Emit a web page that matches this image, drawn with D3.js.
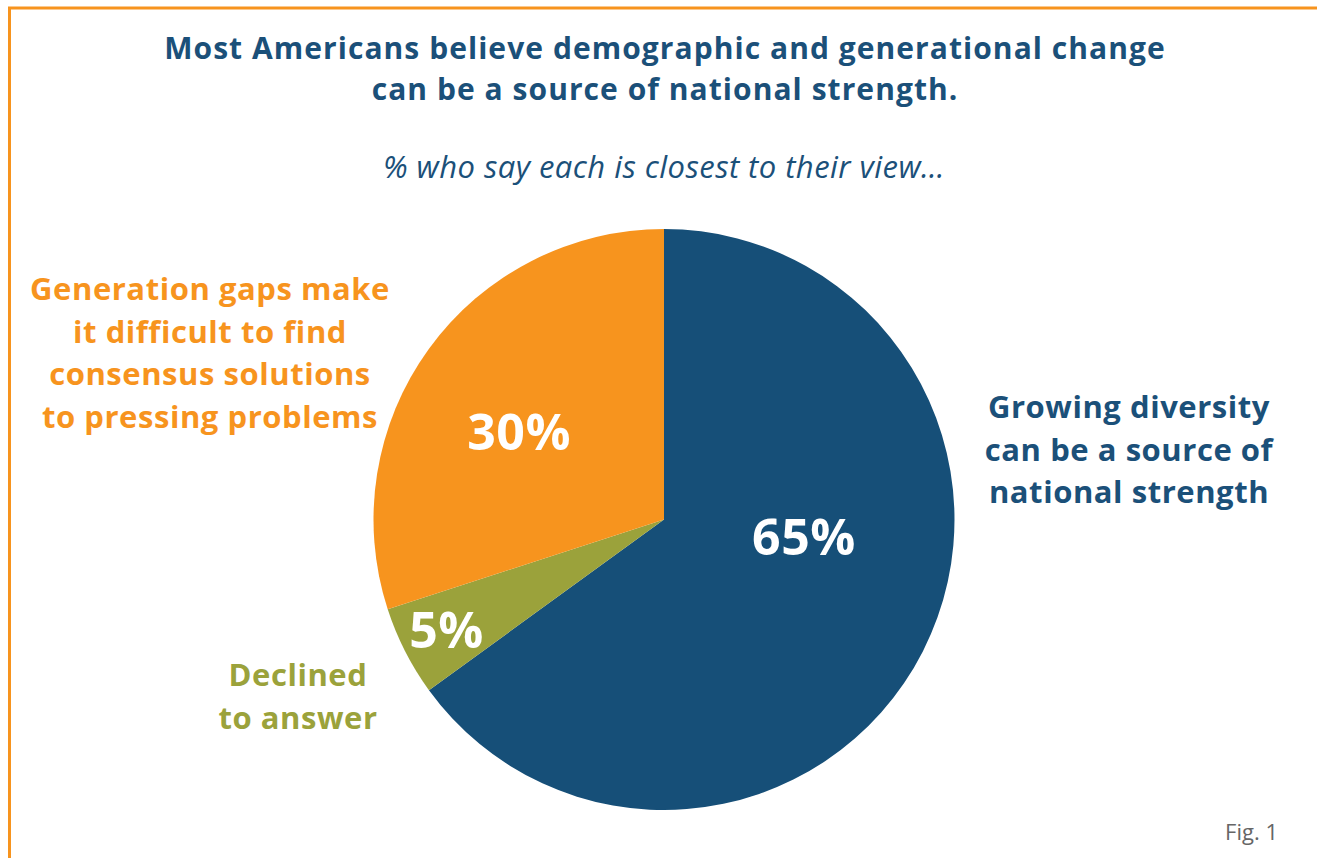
<!DOCTYPE html>
<html>
<head>
<meta charset="utf-8">
<script src="https://cdn.jsdelivr.net/npm/d3@7"></script>
<style>
  html, body { margin: 0; padding: 0; background: #fff; }
  svg { display: block; font-family: "Open Sans", sans-serif; }
</style>
</head>
<body>
<svg id="chart" width="1317" height="858"></svg>
<script>
// Survey responses
const categories = [
  "Growing diversity can be a source of national strength",
  "Declined to answer",
  "Generation gaps make it difficult to find consensus solutions to pressing problems"
];
const values = [65, 5, 30];
const colors = ["#164F78", "#9BA23B", "#F7941E"];

// Wrapped outside labels, one array per slice
const outsideLines = [
  ["Growing diversity", "can be a source of", "national strength"],
  ["Declined", "to answer"],
  ["Generation gaps make", "it difficult to find", "consensus solutions", "to pressing problems"]
];

const titleLines = [
  "Most Americans believe demographic and generational change",
  "can be a source of national strength."
];
const subtitle = "% who say each is closest to their view\u2026";
const figLabel = "Fig. 1";

// Layout
const W = 1317, H = 858;
const cx = 664, cy = 519.5, R = 290.5;
const labelRadius = [141, 244, 169];      // distance of the % label from the centre
const labelAngleShift = [-20, 0, -5];     // degrees, shifts each % label along its slice
const outsidePos = [
  { x: 1129, y: 418 },
  { x: 298, y: 686 },
  { x: 210, y: 300 }
];
const lineGap = 42.5;

const svg = d3.select("#chart");

// Frame rule on top and left
svg.append("path")
  .attr("d", `M9.5,${H} L9.5,8 L${W},8`)
  .attr("fill", "none")
  .attr("stroke", "#F7941E")
  .attr("stroke-width", 3);

// Title
svg.append("g").selectAll("text")
  .data(titleLines)
  .join("text")
  .attr("x", 665)
  .attr("y", (d, i) => 59 + i * 41)
  .attr("text-anchor", "middle")
  .attr("font-size", 30)
  .attr("font-weight", 700)
  .attr("letter-spacing", 1.05)
  .attr("fill", "#1B5079")
  .text(d => d);

svg.append("text")
  .attr("x", 664)
  .attr("y", 178)
  .attr("text-anchor", "middle")
  .attr("font-size", 31)
  .attr("font-style", "italic")
  .attr("letter-spacing", 0.45)
  .attr("fill", "#1B5079")
  .text(subtitle);

// Pie
const pie = d3.pie().sort(null).value(d => d)(values);
const arc = d3.arc().innerRadius(0).outerRadius(R);

const g = svg.append("g").attr("transform", `translate(${cx},${cy})`);

g.selectAll("path")
  .data(pie)
  .join("path")
  .attr("d", arc)
  .attr("fill", (d, i) => colors[i]);

g.selectAll("text.pct")
  .data(pie)
  .join("text")
  .attr("class", "pct")
  .attr("transform", (d, i) => {
    const a = (d.startAngle + d.endAngle) / 2 + labelAngleShift[i] * Math.PI / 180;
    const r = labelRadius[i];
    return `translate(${r * Math.sin(a)},${-r * Math.cos(a)})`;
  })
  .attr("text-anchor", "middle")
  .attr("dy", "0.36em")
  .attr("font-size", 50)
  .attr("font-weight", 700)
  .attr("letter-spacing", 0.5)
  .attr("fill", "#fff")
  .text(d => d.value + "%");

// Category labels outside the pie
outsideLines.forEach((lines, i) => {
  svg.append("g").selectAll("text")
    .data(lines)
    .join("text")
    .attr("x", outsidePos[i].x)
    .attr("y", (d, j) => outsidePos[i].y + j * lineGap)
    .attr("text-anchor", "middle")
    .attr("font-size", 31)
    .attr("font-weight", 700)
    .attr("letter-spacing", 0.55)
    .attr("fill", i === 0 ? "#1B5079" : colors[i])
    .text(d => d);
});

svg.append("text")
  .attr("x", 1278)
  .attr("y", 840)
  .attr("text-anchor", "end")
  .attr("font-size", 22)
  .attr("fill", "#666")
  .text(figLabel);
</script>
</body>
</html>
